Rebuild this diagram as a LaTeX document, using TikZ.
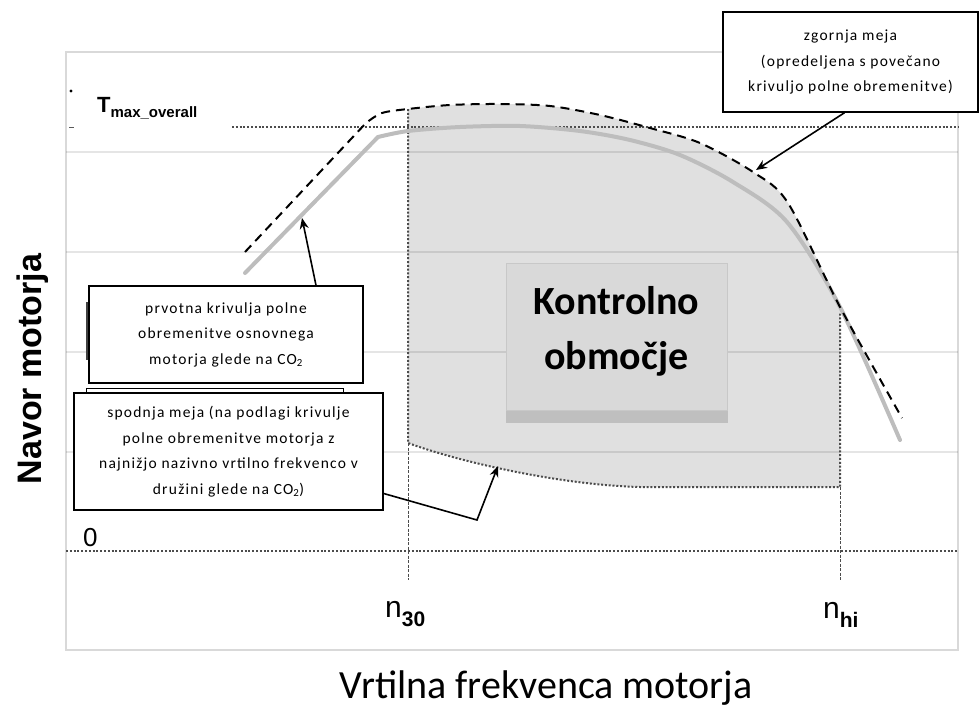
\documentclass[tikz,border=0pt]{standalone}
\usepackage{fontspec}
\setmainfont{Carlito}
\newfontfamily\arialfont{Liberation Sans}
\newfontfamily\callfont[LetterSpace=8]{Carlito}
\usetikzlibrary{arrows.meta}
\definecolor{regiongray}{HTML}{E0E0E0}
\definecolor{curvegray}{HTML}{BDBDBD}
\definecolor{boxgray}{HTML}{D9D9D9}
\definecolor{boxedge}{HTML}{C8C8C8}
\definecolor{bargray}{HTML}{BFBFBF}
\definecolor{framegray}{HTML}{D9D9D9}
\newcommand{\nsub}[1]{{\fontsize{30}{30}\selectfont n}\raisebox{-9pt}{\fontsize{21}{21}\selectfont\bfseries #1}}
\tikzset{
  callout/.style={rectangle, draw=black, line width=1.4pt, fill=white, align=center,
                  font=\callfont\fontsize{15.5}{25.5}\selectfont, inner sep=0pt},
  ctrlbox/.style={rectangle, draw=boxedge, line width=1pt, fill=boxgray, inner sep=0pt,
                  minimum width=221pt, minimum height=147pt},
  ctrltxt/.style={align=center, font=\fontsize{40}{55}\selectfont\bfseries, inner sep=0pt},
  gridln/.style={draw=black, opacity=0.1, line width=1.5pt},
  refln/.style={draw=black!70, line width=2pt, dash pattern=on 2pt off 1.8pt},
  guideln/.style={draw=black!70, line width=1pt, dash pattern=on 3pt off 1.5pt},
  upperln/.style={draw=black, line width=2pt, dash pattern=on 9pt off 6pt},
  baseln/.style={draw=curvegray, line width=4pt, line cap=round},
  ptr/.style={-{Stealth[length=11pt, width=9pt]}, line width=1.6pt},
}
\begin{document}
\begin{tikzpicture}[x=1pt, y=-1pt]
  \useasboundingbox (0,0) rectangle (980,710);
  \draw[framegray, line width=1.5pt] (66,52) rectangle (958,650);

  % control area
  \fill[regiongray] (408,443) -- plot[smooth, tension=0.5] coordinates {(408,109) (450,105) (500,104)
        (550,106) (600,115) (650,128) (700,143) (753,172) (788,203) (840,307)}
        -- (840,487) -- (640,487) .. controls (560,485) and (460,462) .. (408,443) -- cycle;
  \foreach \gy in {152,252,352,452}
    \draw[gridln] (66,\gy) -- (958,\gy);
  \draw[refln] (66,551) -- (958,551);
  \draw[refln] (232,127) -- (958,127);
  \draw[refln] (408,109) -- (408,443) .. controls (460,462) and (560,485) .. (640,487) -- (840,487) -- (840,313);
  \draw[guideln] (408,443) -- (408,580);
  \draw[guideln] (840,487) -- (840,580);
  \fill (71,91) circle (1.6pt);
  \draw[black!65, line width=1pt] (69,127) -- (74,127);

  % curves
  \draw[baseln] (245,273) -- plot[smooth, tension=0.5] coordinates {(378,137) (408,131) (460,127) (520,126)
        (580,131) (630,140) (680,155) (733,182) (787,222) (840,307) (900,440)};
  \draw[upperln] (245,252) -- plot[smooth, tension=0.5] coordinates {(366,123) (382,113) (408,109) (450,105)
        (500,104) (550,106) (600,115) (650,128) (700,143) (753,172) (788,203) (840,307) (902,418)};

  \node[ctrlbox] (kontrola) at (616.5,336.5) {};
  \fill[bargray] (kontrola.south west) rectangle ([yshift=-12pt]kontrola.south east);
  \node[ctrltxt] (kontrolatxt) at ([yshift=5pt]kontrola.center) {Kontrolno\\območje};

  % callouts
  \draw[black!75, line width=3pt] (87,302) -- (87,360);
  \draw[line width=1pt] (86,394) -- (86,388) -- (343,388) -- (343,394);
  \node[callout, minimum width=255pt, minimum height=100pt] (zgornja) at (850.5,62)
        {zgornja meja\\(opredeljena s povečano\\krivuljo polne obremenitve)};
  \node[callout, minimum width=274pt, minimum height=97pt] (prvotna) at (226,334.5)
        {prvotna krivulja polne\\obremenitve osnovnega\\motorja glede na CO\textsubscript{2}};
  \node[callout, minimum width=309pt, minimum height=117pt] (spodnja) at (228.5,451.5)
        {spodnja meja (na podlagi krivulje\\polne obremenitve motorja z\\najnižjo nazivno vrtilno frekvenco v\\družini glede na CO\textsubscript{2})};
  \coordinate (tipzg) at (756,170);
  \coordinate (tippr) at (302,218);
  \coordinate (bendsp) at (477,520);
  \coordinate (tipsp) at (498,466);
  \draw[ptr] ([xshift=-6pt]zgornja.south) -- (tipzg);
  \draw[ptr] ([xshift=90pt]prvotna.north) -- (tippr);
  \draw[ptr] ([yshift=-42pt]spodnja.east) -- (bendsp) -- (tipsp);

  % axis texts
  \node[anchor=base west, inner sep=0pt, font=\arialfont\bfseries] (tmax) at (97,112)
        {{\fontsize{22}{22}\selectfont T}\raisebox{-5pt}{\fontsize{15}{15}\selectfont max\_overall}};
  \node[anchor=base west, inner sep=0pt, font=\arialfont\fontsize{26}{26}\selectfont] (zero) at (83,546) {0};
  \node[anchor=base west, inner sep=0pt, font=\arialfont] (nlow) at (385,617) {\nsub{30}};
  \node[anchor=base west, inner sep=0pt, font=\arialfont] (nhigh) at (823,618) {\nsub{hi}};
  \node[rotate=90, inner sep=0pt, font=\arialfont\bfseries\fontsize{34}{34}\selectfont] (ylabel) at (33,369) {Navor motorja};
  \node[inner sep=0pt, font=\fontsize{40}{40}\selectfont] (xlabel) at (546,688) {Vrtilna frekvenca motorja};
\end{tikzpicture}
\end{document}
